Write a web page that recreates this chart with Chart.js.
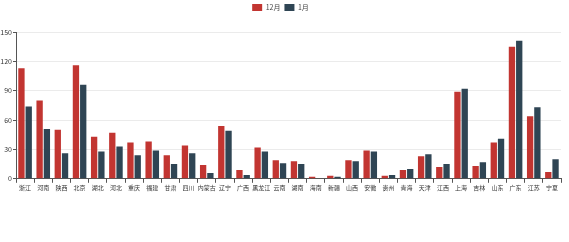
<!DOCTYPE html>
<html>
<head>
<meta charset="utf-8">
<script src="https://cdn.jsdelivr.net/npm/chart.js@4"></script>
<style>
  html, body { margin: 0; padding: 0; background: #fff; }
  #wrap { width: 569px; height: 242px; }
</style>
</head>
<body>
<div id="wrap"><canvas id="chart"></canvas></div>
<script>
const provinces = ["浙江", "河南", "陕西", "北京", "湖北", "河北", "重庆", "福建", "甘肃", "四川",
  "内蒙古", "辽宁", "广西", "黑龙江", "云南", "湖南", "海南", "新疆", "山西", "安徽",
  "贵州", "青海", "天津", "江西", "上海", "吉林", "山东", "广东", "江苏", "宁夏"];
const december = [113, 80, 50, 116, 43, 47, 37, 38, 24, 34,
  14, 54, 9, 32, 19, 18, 2, 3, 19, 29,
  3, 9, 23, 12, 89, 13, 37, 135, 64, 7];
const january = [74, 51, 26, 96, 28, 33, 24, 29, 15, 26,
  6, 49, 4, 28, 16, 15, 0, 2, 18, 28,
  4, 10, 25, 15, 92, 17, 41, 141, 73, 20];
const yTicks = [0, 30, 60, 90, 120, 150];

const font = "'Noto Sans CJK SC', 'Noto Sans', sans-serif";

// push the plot area down below the legend
const legendSpace = {
  id: "legendSpace",
  afterInit(chart) {
    const fit = chart.legend.fit;
    chart.legend.fit = function () {
      fit.call(this);
      this.height += 11;
    };
  },
};

new Chart(document.getElementById("chart"), {
  type: "bar",
  data: {
    labels: provinces,
    datasets: [
      { label: "12月", data: december, backgroundColor: "#c23531", categoryPercentage: 0.8, barPercentage: 0.87 },
      { label: "1月", data: january, backgroundColor: "#2f4554", categoryPercentage: 0.8, barPercentage: 0.87 },
    ],
  },
  options: {
    responsive: true,
    maintainAspectRatio: false,
    animation: false,
    layout: { padding: { left: 0, right: 8, top: 0, bottom: 50 } },
    plugins: {
      tooltip: { enabled: false },
      legend: {
        position: "top",
        labels: {
          boxWidth: 10,
          boxHeight: 7,
          padding: 4,
          color: "#444",
          font: { family: font, size: 7 },
        },
      },
    },
    scales: {
      x: {
        grid: { offset: true, drawOnChartArea: false, drawTicks: true, tickLength: 4, color: "#555" },
        border: { color: "#555" },
        ticks: { color: "#333", font: { family: font, size: 6 }, maxRotation: 0, autoSkip: false, padding: 1 },
      },
      y: {
        min: 0,
        max: 150,
        afterFit: (scale) => { scale.width = 16; },
        afterBuildTicks: (scale) => { scale.ticks = yTicks.map((v) => ({ value: v })); },
        grid: { color: "#ebebeb", tickLength: 3, tickColor: "#555" },
        border: { color: "#555" },
        ticks: { color: "#333", font: { family: font, size: 7 }, padding: 1 },
      },
    },
  },
  plugins: [legendSpace],
});
</script>
</body>
</html>
